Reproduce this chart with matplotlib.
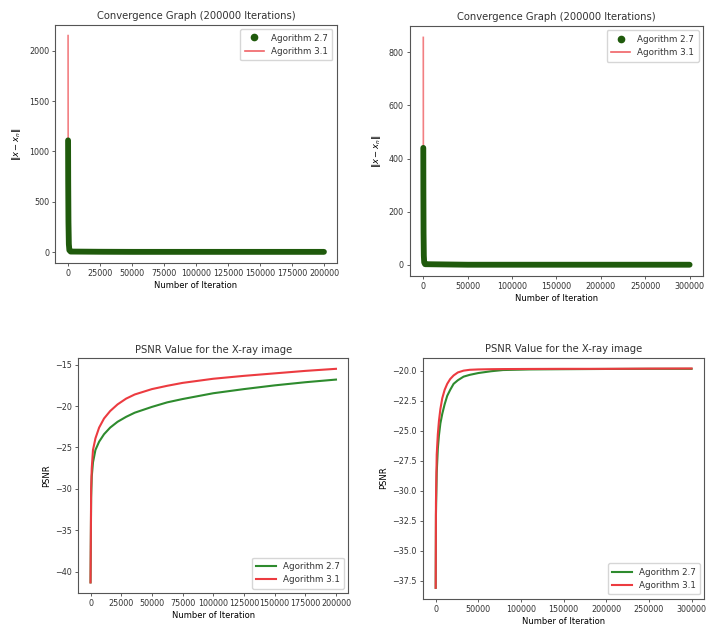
import numpy as np
import matplotlib
matplotlib.use('Agg')
import matplotlib.pyplot as plt
from matplotlib.lines import Line2D

# 共通の設定
plt.rcParams['font.family'] = ['DejaVu Sans']
plt.rcParams['axes.edgecolor'] = '#555555'
plt.rcParams['text.color'] = '#333333'
plt.rcParams['xtick.color'] = '#444444'
plt.rcParams['ytick.color'] = '#444444'
plt.rcParams['xtick.labelcolor'] = '#333333'
plt.rcParams['ytick.labelcolor'] = '#333333'

# ---- データ ----
# 収束グラフ 左 (200000 iterations)
conv_iter_a = [0, 100, 300, 600, 1000, 2000, 25000, 50000, 100000, 150000, 200000]
conv_a27 = [1110, 700, 300, 80, 20, 6, 4, 3, 3, 3, 3]
conv_a31 = [2150, 500, 100, 20, 5, 2, 1, 1, 1, 1, 1]

# 収束グラフ 右 (300000 iterations)
conv_iter_b = [0, 100, 300, 600, 1000, 2000, 50000, 100000, 200000, 300000]
conv_b27 = [440, 280, 120, 35, 10, 3, 1, 1, 1, 1]
conv_b31 = [855, 200, 40, 8, 2, 1, 0.5, 0.5, 0.5, 0.5]

# PSNR 左
psnr_iter_a = [0, 500, 1000, 2000, 4000, 7000, 11000, 16000, 22000, 29000, 36000,
               50000, 62500, 75000, 100000, 125000, 150000, 175000, 200000]
psnr_a27 = [-41.3, -31.0, -28.5, -26.8, -25.3, -24.3, -23.4, -22.6, -21.9, -21.3, -20.8,
            -20.1, -19.55, -19.15, -18.45, -17.95, -17.5, -17.12, -16.8]
psnr_a31 = [-41.3, -30.0, -27.5, -25.3, -23.9, -22.6, -21.5, -20.6, -19.8, -19.1, -18.6,
            -17.95, -17.55, -17.2, -16.7, -16.35, -16.05, -15.75, -15.5]

# PSNR 右
psnr_iter_b = [0, 300, 1200, 2500, 3800, 5500, 7700, 10500, 13500, 17000, 21000,
               26000, 32700, 40000, 50000, 65000, 79000, 110000, 150000, 200000,
               250000, 300000]
psnr_b27 = [-38.1, -32.0, -28.5, -26.5, -25.4, -24.4, -23.6, -22.8, -22.1, -21.6, -21.1,
            -20.8, -20.5, -20.35, -20.2, -20.05, -19.95, -19.9, -19.88, -19.86,
            -19.85, -19.85]
psnr_b31 = [-38.1, -31.0, -27.0, -25.3, -24.2, -23.2, -22.3, -21.6, -21.1, -20.7, -20.4,
            -20.15, -20.0, -19.93, -19.9, -19.88, -19.87, -19.86, -19.85, -19.85,
            -19.83, -19.82]

ticks_x_a = [0, 25000, 50000, 75000, 100000, 125000, 150000, 175000, 200000]
ticks_x_b = [0, 50000, 100000, 150000, 200000, 250000, 300000]
ticks_conv_a = [0, 500, 1000, 1500, 2000]
ticks_conv_b = [0, 200, 400, 600, 800]
ticks_psnr_a = [-40, -35, -30, -25, -20, -15]
ticks_psnr_b = [-37.5, -35.0, -32.5, -30.0, -27.5, -25.0, -22.5, -20.0]

labels = ['Agorithm 2.7', 'Agorithm 3.1']
conv_title = 'Convergence Graph (200000 Iterations)'
psnr_title = 'PSNR Value for the X-ray image'
xlab = 'Number of Iteration'

TICK_FS = 5.8
LAB_FS = 6.0
TITLE_FS = 7.2
LEG_FS = 6.3

GREEN_DOT = '#1f5a0c'
GREEN = '#2e8b2e'
RED = '#ec3b40'

fig = plt.figure(figsize=(7.18, 6.35), dpi=100)


def convergence(ax, it, e27, e31, xticks, yticks):
    ax.plot(it, e31, color=RED, alpha=0.65, lw=1.2, zorder=2)
    ax.plot(it, e27, color=GREEN_DOT, lw=4.2, solid_capstyle='round',
            solid_joinstyle='round', zorder=3)
    handles = [Line2D([0], [0], marker='o', ls='', color=GREEN_DOT, ms=4.5),
               Line2D([0], [0], color=RED, alpha=0.8, lw=1.2)]
    ax.legend(handles, labels, loc='upper right', fontsize=LEG_FS,
              handlelength=2.2, borderpad=0.5)
    ax.set_xticks(xticks)
    ax.set_yticks(yticks)
    ax.tick_params(labelsize=TICK_FS, length=2.5, width=0.6, pad=2)
    ax.set_title(conv_title, fontsize=TITLE_FS, pad=4)
    ax.set_xlabel(xlab, fontsize=LAB_FS, labelpad=2)
    ax.set_ylabel(r'$\| x - x_n \|$', fontsize=LAB_FS, labelpad=4)


def psnr(ax, it, p27, p31, xticks, yticks, fmt):
    ax.plot(it, p27, color=GREEN, lw=1.5, label=labels[0])
    ax.plot(it, p31, color=RED, lw=1.5, label=labels[1])
    ax.legend(loc='lower right', fontsize=LEG_FS, handlelength=2.2, borderpad=0.5)
    ax.set_xticks(xticks)
    ax.set_yticks(yticks)
    ax.set_yticklabels([fmt.format(v).replace('-', '\u2212') for v in yticks])
    ax.tick_params(labelsize=TICK_FS, length=2.5, width=0.6, pad=2)
    ax.set_title(psnr_title, fontsize=TITLE_FS, pad=4)
    ax.set_xlabel(xlab, fontsize=LAB_FS, labelpad=2)
    ax.set_ylabel('PSNR', fontsize=LAB_FS, labelpad=3)


ax1 = fig.add_axes([0.077, 0.586, 0.392, 0.375])
convergence(ax1, conv_iter_a, conv_a27, conv_a31, ticks_x_a, ticks_conv_a)

ax2 = fig.add_axes([0.571, 0.565, 0.408, 0.394])
convergence(ax2, conv_iter_b, conv_b27, conv_b31, ticks_x_b, ticks_conv_b)

ax3 = fig.add_axes([0.109, 0.066, 0.376, 0.370])
psnr(ax3, psnr_iter_a, psnr_a27, psnr_a31, ticks_x_a, ticks_psnr_a, '{:.0f}')

ax4 = fig.add_axes([0.589, 0.057, 0.392, 0.380])
psnr(ax4, psnr_iter_b, psnr_b27, psnr_b31, ticks_x_b, ticks_psnr_b, '{:.1f}')

fig.savefig('out.png', dpi=100)
